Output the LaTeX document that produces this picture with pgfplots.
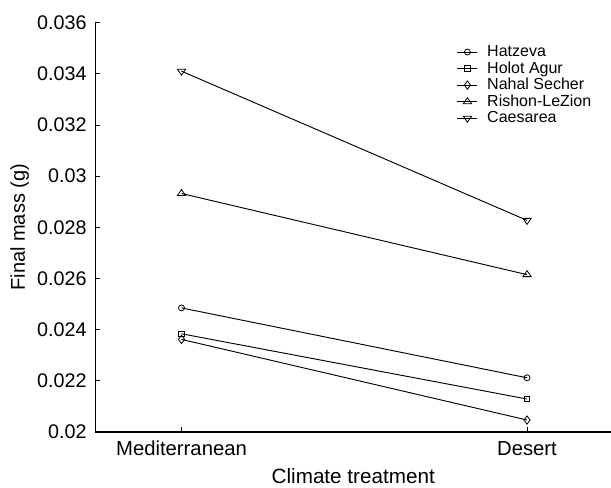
\documentclass[border=0pt]{standalone}
\usepackage{pgfplots}
\pgfplotsset{compat=1.18}
\usepackage{fontspec}
\setmainfont{Liberation Sans}
\begin{document}
\begin{tikzpicture}
\begin{axis}[
  name=a,
  scale only axis,
  width=386.6pt, height=307.1pt,
  xmin=-0.249, xmax=1.243,
  ymin=0.02, ymax=0.036,
  axis x line*=bottom, axis y line*=left,
  axis line style={-, line width=1.1pt},
  xtick={0,1}, xticklabels={Mediterranean,Desert},
  ytick={0.02,0.022,0.024,0.026,0.028,0.03,0.032,0.034,0.036},
  yticklabels={0.02,0.022,0.024,0.026,0.028,0.03,0.032,0.034,0.036},
  scaled y ticks=false,
  tick align=inside,
  major tick length=3.5pt,
  tick style={line width=0.6pt, black},
  xticklabel style={font=\fontsize{15.2}{17}\selectfont, anchor=base, yshift=-17.4pt},
  yticklabel style={font=\fontsize{14.8}{17}\selectfont, inner sep=0pt, xshift=-6.5pt},
  xlabel={Climate treatment},
  ylabel={Final mass (g)},
  xlabel style={font=\fontsize{15.5}{17}\selectfont, at={(axis description cs:0.5,0)}, yshift=-38.5pt, anchor=base},
  ylabel style={font=\fontsize{15}{17}\selectfont, at={(axis description cs:-0.1368,0.5)}, anchor=base, rotate=0},
  legend style={draw=none, fill=none, at={(axis description cs:0.7007,0.951)}, anchor=north west,
    font=\fontsize{12}{13.1}\selectfont, row sep=-1.7pt, inner sep=0pt,
    /tikz/every odd column/.append style={column sep=5pt}},
  legend cell align=left,
  legend image code/.code={\draw[mark repeat=2,mark phase=2] plot coordinates {(0pt,0pt)(7.5pt,0pt)(15pt,0pt)};},
]
\addplot[black, line width=0.7pt, mark=o, mark size=2.25pt, mark options={fill=white, solid, line width=0.6pt}] coordinates {(0,0.02485) (1,0.02212)};
\addlegendentry{Hatzeva}
\addplot[black, line width=0.7pt, mark=square, mark size=2pt, mark options={fill=white, solid, line width=0.6pt}] coordinates {(0,0.02384) (1,0.02129)};
\addlegendentry{Holot Agur}
\addplot[black, line width=0.7pt, mark=diamond, mark size=3.1pt, mark options={fill=white, solid, line width=0.6pt}] coordinates {(0,0.02362) (1,0.02047)};
\addlegendentry{Nahal Secher}
\addplot[black, line width=0.7pt, mark=triangle, mark size=3pt, mark options={fill=white, solid, xscale=1.2, line width=0.6pt}] coordinates {(0,0.02932) (1,0.02615)};
\addlegendentry{Rishon-LeZion}
\addplot[black, line width=0.7pt, mark=triangle, mark size=3pt, mark options={rotate=180, xscale=1.2, fill=white, solid, line width=0.6pt}] coordinates {(0,0.03410) (1,0.02827)};
\addlegendentry{Caesarea}
\end{axis}
\pgfresetboundingbox
\path[use as bounding box] ([shift={(-71.6pt,-41.25pt)}]a.south west) rectangle ([shift={(0pt,16.9pt)}]a.north east);
\end{tikzpicture}
\end{document}
